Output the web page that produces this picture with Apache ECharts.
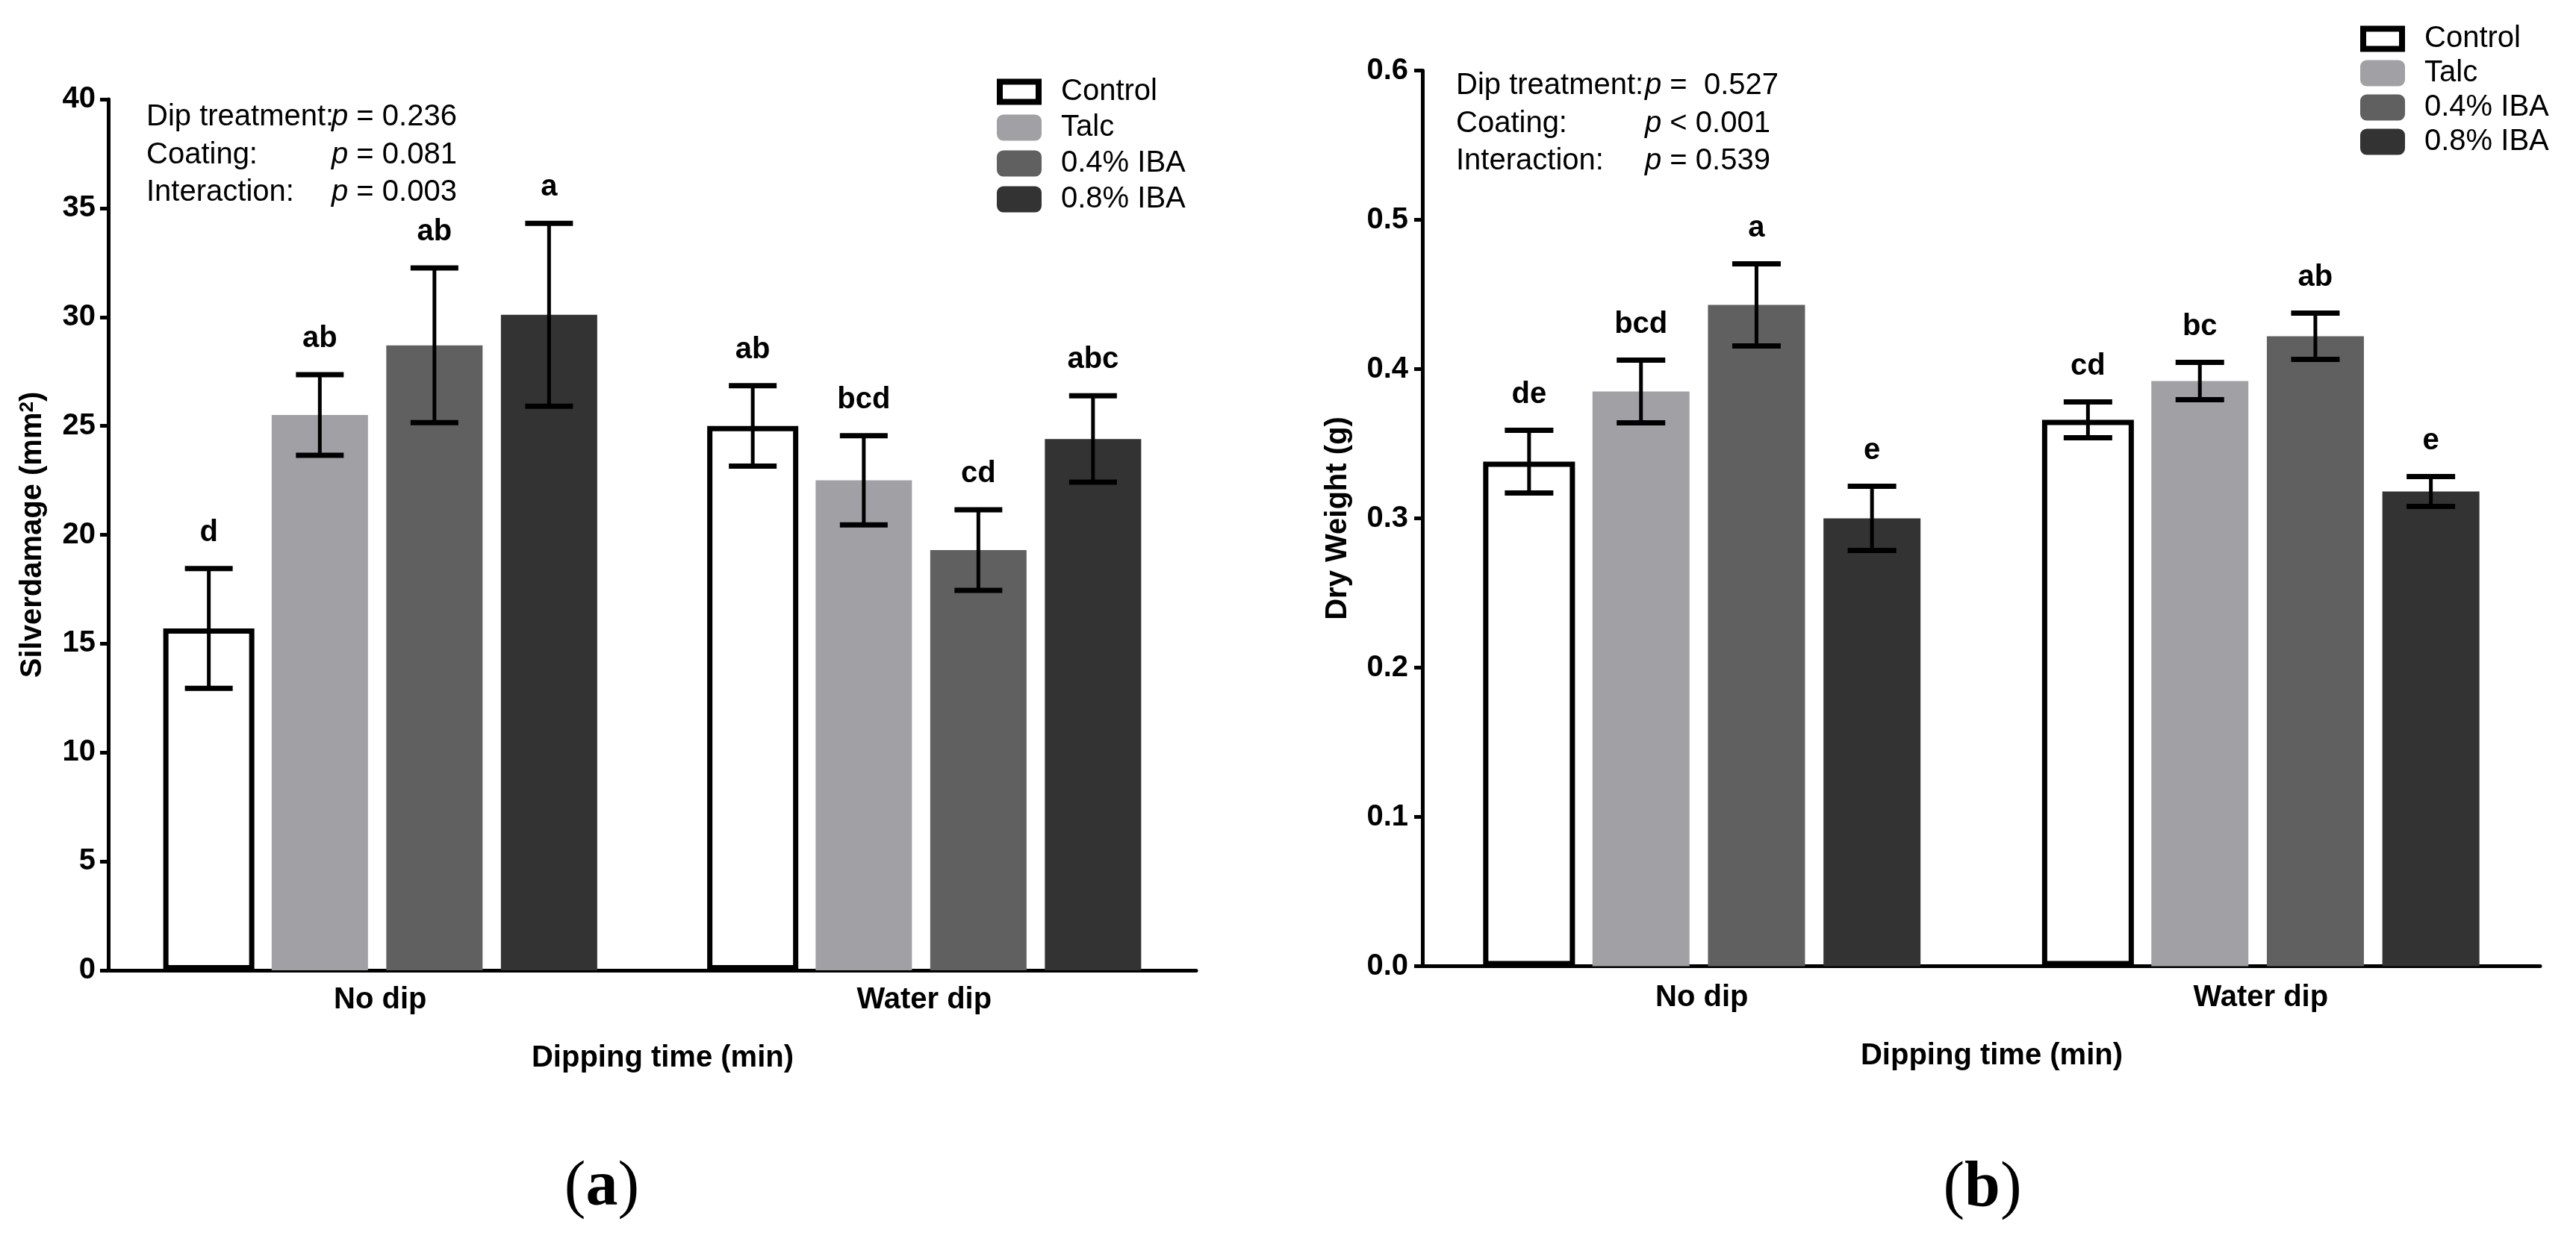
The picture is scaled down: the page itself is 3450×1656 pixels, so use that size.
<!DOCTYPE html>
<html>
<head>
<meta charset="utf-8">
<script src="https://cdn.jsdelivr.net/npm/echarts@6/dist/echarts.min.js"></script>
<style>
  html, body { margin: 0; padding: 0; background: #fff; }
  #chart { width: 3450px; height: 1656px; }
</style>
</head>
<body>
<div id="chart"></div>
<script>
window.addEventListener('load', () => {

const categories = ['No dip', 'Water dip'];
const coatings = ['Control', 'Talc', '0.4% IBA', '0.8% IBA'];

// (a) silver damage, one row per coating, one value per category
const silverMean = [[15.7, 25.0], [25.5, 22.5], [28.7, 19.3], [30.1, 24.4]];
const silverErr = [[2.75, 1.85], [1.85, 2.05], [3.55, 1.85], [4.2, 1.98]];
const silverLetters = [['d', 'ab'], ['ab', 'bcd'], ['ab', 'cd'], ['a', 'abc']];

// (b) dry weight
const weightMean = [[0.338, 0.366], [0.385, 0.392], [0.443, 0.422], [0.300, 0.318]];
const weightErr = [[0.021, 0.012], [0.021, 0.0125], [0.0275, 0.0155], [0.0215, 0.010]];
const weightLetters = [['de', 'cd'], ['bcd', 'bc'], ['a', 'ab'], ['e', 'e']];

const statNames = ['Dip treatment:', 'Coating:', 'Interaction:'];
const silverStats = ['= 0.236', '= 0.081', '= 0.003'];
const weightStats = ['=  0.527', '< 0.001', '= 0.539'];

const FONT = '"Liberation Sans", Arial, sans-serif';
const SERIF = '"Liberation Serif", "Times New Roman", serif';
const colors = ['#ffffff', '#a1a0a5', '#606060', '#333333'];
const GAP = 0.19;

// same column layout as echarts uses for bars (centre offsets from band centre)
const barCenters = (widths, gap) => {
  let sum = 0;
  widths.forEach(w => sum += w * (1 + gap));
  sum -= widths[widths.length - 1] * gap;
  let off = -sum / 2;
  return widths.map(w => {
    const c = off + w / 2;
    off += w * (1 + gap);
    return c;
  });
};

const barSeries = (idx, means, widths) => coatings.map((name, j) => ({
  type: 'bar',
  name: name,
  xAxisIndex: idx,
  yAxisIndex: idx,
  data: means[j],
  barWidth: widths[j],
  barGap: (GAP * 100) + '%',
  itemStyle: j === 0
    ? { color: '#fff', borderColor: '#000', borderWidth: 7 }
    : { color: colors[j] },
  emphasis: { disabled: true },
  silent: true
}));

const errSeries = (idx, means, errs, letters, widths, cap) => {
  const offs = barCenters(widths, GAP);
  const pts = [];
  const labels = [];
  categories.forEach((c, i) => {
    coatings.forEach((n, j) => {
      pts.push([i, j, means[j][i], errs[j][i]]);
      labels.push(letters[j][i]);
    });
  });
  return {
    type: 'custom',
    name: 'err' + idx,
    xAxisIndex: idx,
    yAxisIndex: idx,
    z: 10,
    silent: true,
    data: pts,
    encode: { x: 0, y: 2 },
    renderItem: (params, api) => {
      const cat = api.value(0), grp = api.value(1);
      const mean = api.value(2), err = api.value(3);
      const x = api.coord([cat, mean])[0] + offs[grp];
      const yTop = api.coord([cat, mean + err])[1];
      const yBot = api.coord([cat, mean - err])[1];
      const h = cap / 2;
      const ln = (x1, y1, x2, y2, w) => ({
        type: 'line',
        shape: { x1: x1, y1: y1, x2: x2, y2: y2 },
        style: { stroke: '#000', lineWidth: w }
      });
      return {
        type: 'group',
        children: [
          ln(x, yTop, x, yBot, 5),
          ln(x - h, yTop, x + h, yTop, 7),
          ln(x - h, yBot, x + h, yBot, 7),
          {
            type: 'text',
            style: {
              text: labels[params.dataIndex],
              x: x, y: yTop - 48,
              align: 'center', verticalAlign: 'middle',
              font: 'bold 40px ' + FONT,
              fill: '#000'
            }
          }
        ]
      };
    }
  };
};

const framePath = 'path://M0,0H60V35H0Z M8,8V27H52V8Z';
const legendData = coatings.map((n, j) => j === 0
  ? { name: n, icon: framePath, itemStyle: { color: '#000', borderWidth: 0 } }
  : { name: n, icon: 'roundRect', itemStyle: { color: colors[j], borderWidth: 0 } });

const legend = (left, top, gap) => ({
  left: left, top: top,
  orient: 'vertical',
  itemWidth: 60, itemHeight: 35, itemGap: gap,
  selectedMode: false,
  data: legendData,
  textStyle: { fontSize: 40, fontFamily: FONT, color: '#000', lineHeight: 40, padding: [0, 0, 0, 21] }
});

const xAxis = (idx, nameGap, margin) => ({
  type: 'category',
  gridIndex: idx,
  data: categories,
  name: 'Dipping time (min)',
  nameLocation: 'middle',
  nameGap: nameGap,
  nameTextStyle: { fontSize: 40, fontWeight: 'bold', fontFamily: FONT, color: '#000', padding: [0, 0, 0, 28] },
  axisLine: { lineStyle: { color: '#000', width: 5 } },
  axisTick: { alignWithLabel: true, length: 11, lineStyle: { color: '#000', width: 5 } },
  axisLabel: { fontSize: 40, fontWeight: 'bold', fontFamily: FONT, color: '#000', margin: margin }
});

const yAxis = (idx, name, max, interval, nameGap, margin, fmt) => ({
  type: 'value',
  gridIndex: idx,
  min: 0, max: max, interval: interval,
  name: name,
  nameLocation: 'middle',
  nameGap: nameGap,
  nameTextStyle: {
    fontSize: 40, fontWeight: 'bold', fontFamily: FONT, color: '#000', lineHeight: 40,
    rich: { sup: { fontSize: 26, fontWeight: 'bold', fontFamily: FONT, color: '#000', lineHeight: 22, verticalAlign: 'top' } }
  },
  axisLine: { show: true, lineStyle: { color: '#000', width: 5 } },
  axisTick: { show: true, length: 11, lineStyle: { color: '#000', width: 5 } },
  splitLine: { show: false },
  axisLabel: { fontSize: 40, fontWeight: 'bold', fontFamily: FONT, color: '#000', margin: margin, formatter: fmt }
});

const statText = (names, stats, xName, xP, y0, step) => {
  const out = [];
  names.forEach((n, k) => {
    const y = y0 + k * step;
    out.push({
      type: 'text', x: xName, y: y,
      style: { text: n, font: '40px ' + FONT, fill: '#000', verticalAlign: 'middle' }
    });
    out.push({
      type: 'text', x: xP, y: y,
      style: {
        text: '{i|p} ' + stats[k],
        font: '40px ' + FONT, fill: '#000', verticalAlign: 'middle',
        rich: { i: { fontStyle: 'italic', fontSize: 40, fontFamily: FONT, fill: '#000' } }
      }
    });
  });
  return out;
};

const panelLabel = (ch, x, y) => ({
  type: 'text', x: x, y: y,
  style: {
    text: '({b|' + ch + '})',
    font: '86px ' + SERIF, fill: '#000', align: 'center', verticalAlign: 'middle',
    rich: { b: { fontWeight: 'bold', fontSize: 86, fontFamily: SERIF, fill: '#000' } }
  }
});

const leftWidths = [122, 129, 129, 129];
const rightWidths = [123, 130, 130, 130];

const option = {
  animation: false,
  backgroundColor: '#fff',
  grid: [
    { left: 145, top: 133, width: 1457, height: 1167 },
    { left: 1905, top: 94.5, width: 1497, height: 1200 }
  ],
  legend: [legend(1330, 98, 8), legend(3156, 27, 6)],
  xAxis: [xAxis(0, 98, 20), xAxis(1, 100, 22)],
  yAxis: [
    yAxis(0, 'Silverdamage (mm{sup|2})', 40, 5, 81, 17, v => v),
    yAxis(1, 'Dry Weight (g)', 0.6, 0.1, 93, 19, v => v.toFixed(1))
  ],
  series: [
    ...barSeries(0, silverMean, leftWidths),
    errSeries(0, silverMean, silverErr, silverLetters, leftWidths, 64),
    ...barSeries(1, weightMean, rightWidths),
    errSeries(1, weightMean, weightErr, weightLetters, rightWidths, 65)
  ],
  graphic: [
    ...statText(statNames, silverStats, 196, 444, 157, 50.5),
    ...statText(statNames, weightStats, 1950, 2203, 115, 50.5),
    panelLabel('a', 806, 1592),
    panelLabel('b', 2655, 1593)
  ]
};

const chart = echarts.init(document.getElementById('chart'));
chart.setOption(option);

});
</script>
</body>
</html>
